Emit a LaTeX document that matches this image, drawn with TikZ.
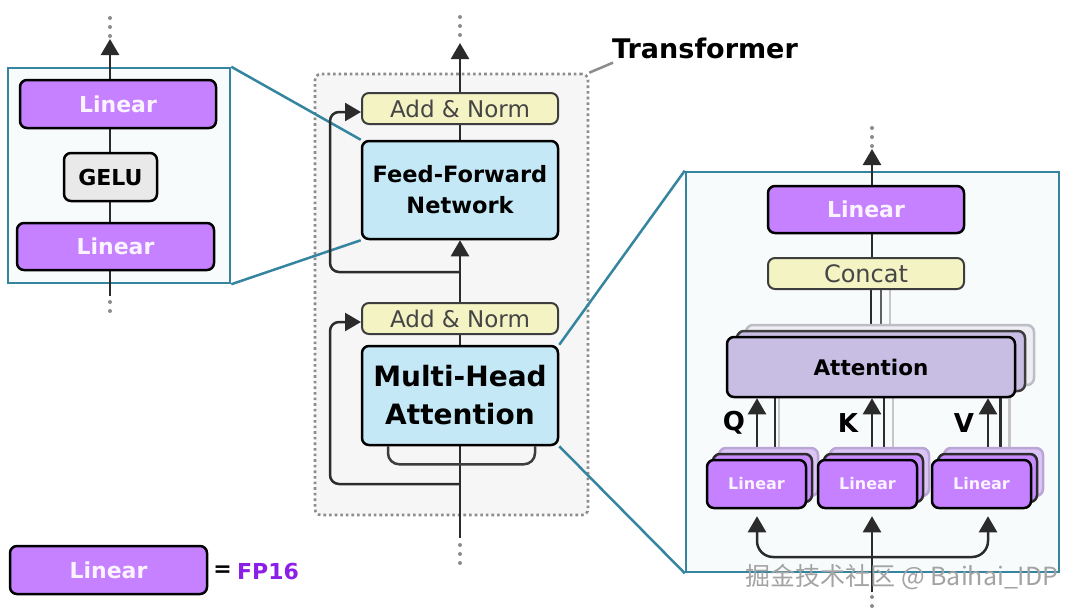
\documentclass[tikz,border=0pt]{standalone}
\usepackage{fontspec}
\setmainfont{DejaVu Sans}
\newfontfamily\cjk{Noto Sans CJK SC}
\usetikzlibrary{arrows.meta,calc}
\pgfdeclarelayer{bg}\pgfdeclarelayer{ln}\pgfsetlayers{bg,ln,main}
\newcommand\fsz[2]{\fontsize{#1}{#2}\selectfont}
\definecolor{purp}{HTML}{C581FF}
\definecolor{purpm}{HTML}{C98CFF}
\definecolor{purpb}{HTML}{DCC4F7}
\definecolor{purpbd}{HTML}{B9A6D4}
\definecolor{linw}{HTML}{FBF3FF}
\definecolor{yel}{HTML}{F3F3C4}
\definecolor{andraw}{HTML}{3D3D3D}
\definecolor{antext}{HTML}{454545}
\definecolor{blu}{HTML}{C5E8F6}
\definecolor{gelu}{HTML}{E9E9E9}
\definecolor{lav}{HTML}{C8BDE2}
\definecolor{lavb}{HTML}{EEEDF3}
\definecolor{lavbd}{HTML}{BDBDC5}
\definecolor{tealc}{HTML}{3585A0}
\definecolor{panelf}{HTML}{F8FBFC}
\definecolor{tbf}{HTML}{F6F6F6}
\definecolor{dotc}{HTML}{8C8C8C}
\definecolor{flowc}{HTML}{2B2B2B}
\definecolor{fp}{HTML}{8B1FE8}
\definecolor{wm}{HTML}{A3A3A3}
\begin{document}
\begin{tikzpicture}[x=1pt,y=-1pt,
  box/.style={draw=black, line width=2.5pt, rounded corners=7pt, inner sep=0pt, align=center, text=black},
  linbox/.style={box, fill=purp, text=linw, font=\bfseries\fsz{22}{24}},
  slin/.style={box, fill=purp, text=linw, font=\bfseries\fsz{16}{18}, minimum width=99pt, minimum height=48pt},
  slinm/.style={box, fill=purpm, draw=flowc, minimum width=99pt, minimum height=48pt},
  slinb/.style={box, fill=purpb, draw=purpbd, minimum width=99pt, minimum height=48pt},
  anbox/.style={box, draw=andraw, line width=2pt, fill=yel, text=antext, font=\fsz{23}{26}, minimum width=196pt, minimum height=31pt},
  panel/.style={draw=tealc, line width=2.5pt, fill=panelf, inner sep=0pt},
  tbox/.style={draw=dotc, line width=2.6pt, dash pattern=on 2.6pt off 3pt, fill=tbf, rounded corners=6pt, inner sep=0pt},
  flow/.style={draw=flowc, line width=2.5pt},
  arr/.style={flow, -{Triangle[length=16pt,width=18pt]}},
  dots/.style={draw=dotc, line width=4pt, line cap=round, dash pattern=on 0pt off 9pt},
  tealln/.style={draw=tealc, line width=2.5pt},
  lab/.style={inner sep=0pt, font=\bfseries\fsz{26}{28}, text=black}
]
\useasboundingbox (0,0) rectangle (1080,608);

% ---------- panels ----------
\begin{pgfonlayer}{bg}
  \fill[white] (0,0) rectangle (1080,608);
  \node[panel, minimum width=222pt, minimum height=215pt] (LP) at (119,175.5) {};
  \node[tbox, minimum width=273pt, minimum height=441pt] (TB) at (451.5,294.5) {};
  \node[panel, minimum width=373pt, minimum height=400pt] (RP) at (872.5,372) {};
\end{pgfonlayer}

% ---------- left: FFN detail ----------
\node[linbox, minimum width=196pt, minimum height=48pt] (L1) at (118,104) {Linear};
\node[box, fill=gelu, minimum width=93pt, minimum height=48pt, font=\bfseries\fsz{22}{24}] (G) at (110.5,177) {GELU};
\node[linbox, minimum width=197pt, minimum height=47pt] (L2) at (115.5,246.5) {Linear};
\coordinate (lbot) at (110,296);
\coordinate (ltop) at (110,39);

% ---------- center: transformer ----------
\node[inner sep=0pt, font=\bfseries\fsz{27}{30}, anchor=west] (TL) at (612,48) {Transformer};
\node[anbox] (AN1) at (460,108.5) {Add \& Norm};
\node[box, fill=blu, minimum width=196pt, minimum height=98pt, font=\bfseries\fsz{22.5}{31}] (FFN) at (460,190) {Feed-Forward\\Network};
\node[anbox] (AN2) at (460,318.5) {Add \& Norm};
\node[box, fill=blu, minimum width=196pt, minimum height=99pt, font=\bfseries\fsz{28}{38}] (MHA) at (460,395.5) {Multi-Head\\Attention};
\coordinate (cbot) at (460,538);
\coordinate (ctop) at (460,43);
\coordinate (r1) at (460,272);
\coordinate (r2) at (460,484);

% ---------- right: MHA detail ----------
\node[linbox, minimum width=196pt, minimum height=47pt] (RL) at (866,209.5) {Linear};
\node[anbox, font=\fsz{24}{26}] (CC) at (866,273.5) {Concat};
\node[box, fill=lavb, draw=lavbd, minimum width=288pt, minimum height=60pt] (ATTb) at (890,355) {};
\node[box, fill=lav, draw=andraw, minimum width=288pt, minimum height=60pt] (ATTm) at (881,361) {};
\node[box, fill=lav, minimum width=288pt, minimum height=60pt, font=\bfseries\fsz{21.5}{24}] (ATT) at (871,367) {Attention};

\node[slinb] (QLb) at (768.5,472) {};
\node[slinm] (QLm) at (762.5,478) {};
\node[slin] (QL) at (756.5,484) {Linear};
\node[slinb] (KLb) at (879.5,472) {};
\node[slinm] (KLm) at (873.5,478) {};
\node[slin] (KL) at (867.5,484) {Linear};
\node[slinb] (VLb) at (993.5,472) {};
\node[slinm] (VLm) at (987.5,478) {};
\node[slin] (VL) at (981.5,484) {Linear};

\node[lab] (Q) at (734,423) {Q};
\node[lab] (K) at (848,423) {K};
\node[lab] (V) at (964,423) {V};
\coordinate (kin) at (872,592);
\coordinate (ubase) at (872,557);
\coordinate (rtop) at (872,149);

% ---------- legend & watermark ----------
\node[linbox, minimum width=197pt, minimum height=48pt] (LG) at (108.5,570) {Linear};
\node[lab, font=\bfseries\fsz{22}{24}] (EQ) at (222.5,571) {=};
\node[lab, font=\bfseries\fsz{22}{24}, text=fp] (FP) at (268,571) {FP16};
\node[inner sep=0pt, font=\cjk\fsz{25}{28}, text=wm] (WM) at (902,577) {掘金技术社区 @ Baihai\_IDP};

% ---------- connectors ----------
\begin{pgfonlayer}{ln}
  % left column
  \draw[flow] (lbot) -- (lbot |- L1.north);
  \draw[arr] (lbot |- L1.north) -- (ltop);
  \draw[dots] (110,18) -- (110,36);
  \draw[dots] (110,302) -- (110,316);
  % teal zoom lines
  \draw[tealln] (LP.north east) -- (FFN.north west);
  \draw[tealln] (LP.south east) -- (FFN.south west);
  \draw[tealln] (MHA.north east) -- (RP.north west);
  \draw[tealln] (MHA.south east) -- (RP.south west);
  % transformer label leader
  \draw[draw=dotc, line width=2.5pt] (TB.north east) -- ([shift={(1pt,-4pt)}]TL.south west);
  % center main flow
  \draw[flow] (cbot) -- (cbot |- AN2.south);
  \draw[arr] (AN2.north) -- (FFN.south);
  \draw[flow] (FFN.north) -- (AN1.south);
  \draw[arr] (AN1.north) -- (ctop);
  \draw[arr, rounded corners=9pt] (r1) -- (330,272) -- (330,112) -- ([yshift=-3.5pt]AN1.west);
  \draw[arr, rounded corners=9pt] (r2) -- (330,484) -- (330,322) -- ([yshift=-3.5pt]AN2.west);
  \draw[draw=andraw, line width=2.5pt, rounded corners=11pt] ($(MHA.south)+(-72,0)$) -- ++(0,18) -- ++(147,0) -- ++(0,-18);
  \draw[dots] (460,17) -- (460,36);
  \draw[dots] (460,545) -- (460,564);
  % right panel flows
  \draw[flow] (CC.north -| rtop) -- (RL.south -| rtop);
  \draw[arr] (RL.north -| rtop) -- (rtop);
  \draw[dots] (872,128) -- (872,146);
  \draw[flow] (ATT.north) -- (ATT.north |- CC.south);
  \draw[draw=gray!75!black, line width=2.5pt] (ATTm.north) -- (ATTm.north |- CC.south);
  \draw[draw=gray!45, line width=2.5pt] (ATTb.north) -- (ATTb.north |- CC.south);
  % Q K V
  \draw[arr] ([xshift=0.5pt]QL.north) -- ([xshift=0.5pt]QL.north |- ATT.south);
  \draw[draw=gray!35!black, line width=2.5pt] ([xshift=12.5pt]QLm.north) -- ([xshift=12.5pt]QLm.north |- ATT.south);
  \draw[draw=gray!45, line width=2.5pt] ([xshift=10.5pt]QLb.north) -- ([xshift=10.5pt]QLb.north |- ATT.south);
  \draw[arr] ([xshift=4.5pt]KL.north) -- ([xshift=4.5pt]KL.north |- ATT.south);
  \draw[draw=gray!35!black, line width=2.5pt] ([xshift=10.5pt]KLm.north) -- ([xshift=10.5pt]KLm.north |- ATT.south);
  \draw[draw=gray!45, line width=2.5pt] ([xshift=13.5pt]KLb.north) -- ([xshift=13.5pt]KLb.north |- ATT.south);
  \draw[arr] ([xshift=6.5pt]VL.north) -- ([xshift=6.5pt]VL.north |- ATT.south);
  \draw[draw=gray!35!black, line width=2.5pt] ([xshift=13pt]VLm.north) -- ([xshift=13pt]VLm.north |- ATT.south);
  \draw[draw=gray!45, line width=2.5pt] ([xshift=16pt]VLb.north) -- ([xshift=16pt]VLb.north |- ATT.south);
  % inputs
  \draw[arr, shorten >=7pt] (kin) -- (kin |- KL.south);
  \draw[flow, rounded corners=16pt, {Triangle[length=16pt,width=18pt]}-{Triangle[length=16pt,width=18pt]}, shorten <=7pt, shorten >=7pt]
     ([xshift=0.5pt]QL.south) -- ([xshift=0.5pt]QL.south |- ubase) -- ([xshift=6.5pt]VL.south |- ubase) -- ([xshift=6.5pt]VL.south);
  \draw[dots] (872,597) -- (872,607);
\end{pgfonlayer}
\end{tikzpicture}
\end{document}
